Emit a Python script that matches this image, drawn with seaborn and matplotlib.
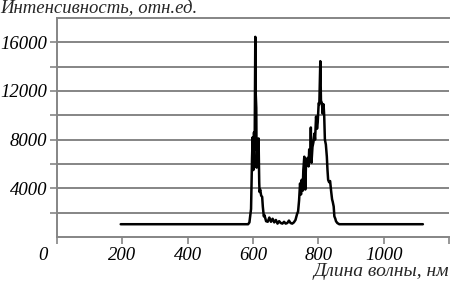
import matplotlib
matplotlib.use("Agg")
import matplotlib.pyplot as plt
import matplotlib.transforms as mtransforms
import seaborn as sns

wavelength = [195, 585, 589, 594, 597, 599, 601, 603, 605, 607, 608, 610, 611, 613, 615,
              617, 619, 620, 622, 625, 628, 630, 633, 635, 640, 645, 650, 655, 660, 665,
              670, 675, 680, 685, 690, 695, 700, 705, 710, 715, 720, 725, 730, 735, 738,
              741, 744, 747, 749, 752, 754, 757, 760, 762, 765, 767, 770, 772, 775, 777,
              779, 782, 785, 788, 790, 793, 796, 798, 801, 803, 806, 808, 811, 813, 816,
              818, 820, 823, 826, 828, 830, 833, 836, 839, 842, 844, 847, 849, 852, 854,
              858, 864, 870, 1120]
intensity = [1050, 1050, 1200, 2300, 6500, 8200, 5500, 8600, 7200, 16450, 12000, 10600, 5700, 7500, 6000,
             8100, 4500, 3700, 3900, 3400, 3300, 2500, 1700, 1800, 1300, 1250, 1600, 1250, 1500, 1200,
             1400, 1100, 1300, 1150, 1100, 1250, 1100, 1150, 1350, 1150, 1100, 1200, 1400, 1900, 2100,
             3000, 4400, 3500, 4700, 3800, 5500, 6600, 3900, 5800, 6300, 6500, 5800, 7200, 6500, 9000,
             6100, 7400, 7800, 8500, 8000, 9900, 8900, 9400, 11000, 10900, 14450, 11200, 11000, 10150, 10900,
             9900, 8000, 7600, 6600, 5500, 4700, 4500, 4600, 3800, 3100, 2900, 2500, 1700, 1500, 1300,
             1150, 1050, 1050, 1050]

x_ticks = [0, 200, 400, 600, 800, 1000, 1200]
x_labels = ["0", "200", "400", "600", "800", "1000", ""]
y_ticks = [4000, 8000, 12000, 16000]
y_minor = [2000, 6000, 10000, 14000]


def main():
    sns.set_style("ticks")
    plt.rcParams["font.family"] = ["Liberation Serif", "DejaVu Serif"]
    plt.rcParams["font.style"] = "italic"

    fig = plt.figure(figsize=(4.51, 2.81), dpi=100)
    ax = fig.add_axes([0.1264, 0.1566, 0.8692, 0.7794])

    grey = "#858585"
    ax.set_axisbelow(True)
    ax.grid(axis="y", which="both", color=grey, lw=1.4)

    sns.lineplot(x=wavelength, y=intensity, ax=ax, color="black", lw=1.8,
                 estimator=None, sort=False)

    ax.set_xlim(0, 1200)
    ax.set_ylim(0, 18000)
    ax.set_xticks(x_ticks)
    ax.set_xticklabels(x_labels)
    ax.set_yticks(y_ticks)
    ax.set_yticks(y_minor, minor=True)
    ax.set_yticklabels([str(v) for v in y_ticks])

    for side in ["left", "bottom", "top"]:
        ax.spines[side].set_color(grey)
        ax.spines[side].set_linewidth(1.4)
    ax.spines["right"].set_visible(False)

    ax.tick_params(axis="both", which="both", colors=grey, labelcolor="black",
                   labelsize=13.5, length=5, width=1.2, pad=2)

    # the "0" label sits left of the axis corner
    offset = mtransforms.ScaledTranslation(-14 / 100, 0, fig.dpi_scale_trans)
    first = ax.get_xticklabels()[0]
    first.set_transform(first.get_transform() + offset)

    fig.text(0.0, 1 - 9 / 281, "Интенсивность, отн.ед.", ha="left", va="center",
             fontsize=13.5, style="italic")
    fig.text(449 / 451, 1 - 271 / 281, "Длина волны, нм", ha="right", va="center",
             fontsize=14, style="italic")

    fig.savefig("out.png", dpi=100)


if __name__ == "__main__":
    main()
